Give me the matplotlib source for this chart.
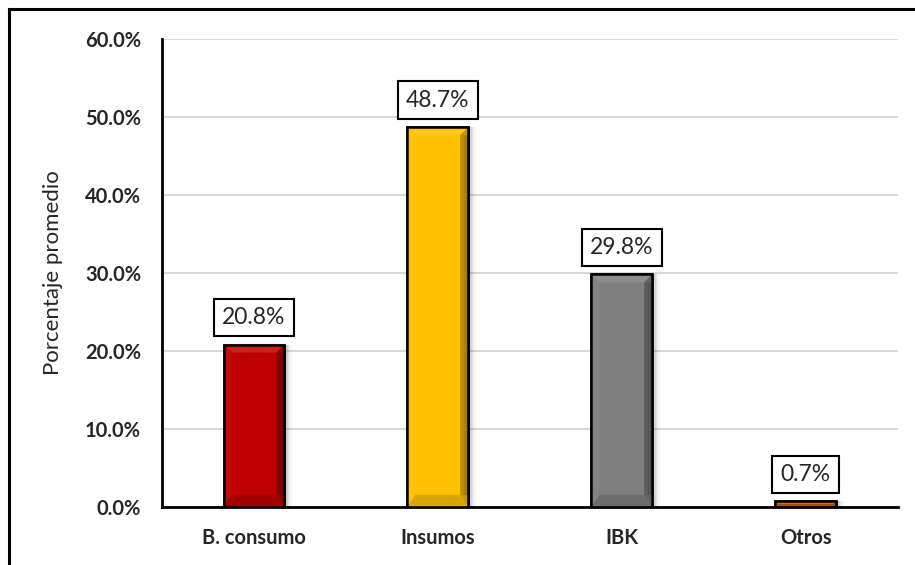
import numpy as np
import matplotlib.pyplot as plt
from matplotlib.patches import Polygon, Rectangle
from matplotlib.lines import Line2D
from matplotlib.colors import to_rgb
import matplotlib.transforms as mtransforms

plt.rcParams['font.family'] = ['Lato', 'DejaVu Sans']

# datos
categorias = ["B. consumo", "Insumos", "IBK", "Otros"]
porcentajes = [20.8, 48.7, 29.8, 0.7]
colores = ["#C00000", "#FFC000", "#7F7F7F", "#C55A11"]
yticks = [0, 10, 20, 30, 40, 50, 60]


def mezcla(c, otro, t):
    c = np.array(to_rgb(c))
    o = np.array(to_rgb(otro))
    return tuple(c * (1 - t) + o * t)


fig = plt.figure(figsize=(9.15, 5.65), dpi=100)
ax = fig.add_axes([0.177, 0.103, 0.804, 0.828])
x = np.arange(len(categorias))
ancho = 0.33
ax.set_xlim(-0.5, len(categorias) - 0.5)
ax.set_ylim(0, 60)

# sombra a la derecha de cada barra
for i, v in enumerate(porcentajes):
    for k, a in enumerate([0.10, 0.08, 0.06, 0.045, 0.03, 0.02, 0.01]):
        tr = mtransforms.offset_copy(ax.transData, fig=fig, x=1 + k * 1.3, y=0, units='dots')
        ax.add_patch(Rectangle((x[i] - ancho / 2, 0), ancho, v, transform=tr,
                               facecolor='black', alpha=a, edgecolor='none', zorder=2))

barras = ax.bar(x, porcentajes, width=ancho, color=colores, edgecolor='black',
                linewidth=1.8, zorder=3)

# biselado de las barras (en pixeles)
inv = ax.transData.inverted()
for b, c in zip(barras, colores):
    (L, B), (R, T) = ax.transData.transform([(b.get_x(), 0), (b.get_x() + b.get_width(), b.get_height())])
    alto = T - B
    d = min(8, alto / 2)
    db = min(12, alto / 2)
    caras = [
        ([(L, T), (R, T), (R - d, T - d), (L + d, T - d)], mezcla(c, 'white', 0.12)),
        ([(L, T), (L + d, T - d), (L + d, B + db), (L, B)], mezcla(c, 'white', 0.04)),
        ([(R, T), (R - d, T - d), (R - d, B + db), (R, B)], mezcla(c, 'black', 0.22)),
        ([(L, B), (R, B), (R - d, B + db), (L + d, B + db)], mezcla(c, 'black', 0.15)),
    ]
    for pts, col in caras:
        ax.add_patch(Polygon(inv.transform(pts), closed=True, facecolor=col,
                             edgecolor='none', zorder=3.5))
    # degradado oscuro en el borde derecho
    for k, a in enumerate([0.18, 0.12, 0.07, 0.03]):
        pts = [(R - k * 2, T - d), (R - k * 2 - 2, T - d), (R - k * 2 - 2, B + db), (R - k * 2, B + db)]
        ax.add_patch(Polygon(inv.transform(pts), closed=True, facecolor='black', alpha=a,
                             edgecolor='none', zorder=3.6))
    ax.add_patch(Rectangle((b.get_x(), 0), b.get_width(), b.get_height(), facecolor='none',
                           edgecolor='black', linewidth=1.8, zorder=4))

# etiquetas de valor
for xi, v in zip(x, porcentajes):
    ax.annotate(f"{v:.1f}%", (xi, v), xytext=(0, 27), textcoords='offset pixels',
                ha='center', va='center', fontsize=16.5, color='#262626', zorder=5,
                bbox=dict(boxstyle='square,pad=0.36', facecolor='white', edgecolor='black',
                          linewidth=1.5))

ax.set_yticks(yticks)
ax.set_yticklabels([f"{t:.1f}%" for t in yticks], fontsize=14.5, fontweight='bold', color='#262626')
ax.set_xticks(x)
ax.set_xticklabels(categorias, fontsize=14.5, fontweight='bold', color='#262626')
ax.tick_params(axis='y', length=0, pad=15)
ax.tick_params(axis='x', length=0, pad=15)
ax.set_ylabel("Porcentaje promedio", fontsize=16, color='#262626', labelpad=16)

ax.grid(axis='y', color='#D9D9D9', linewidth=1.5, zorder=0)
ax.set_axisbelow(True)
for s in ['top', 'right']:
    ax.spines[s].set_visible(False)
ax.spines['left'].set_linewidth(2)
ax.spines['bottom'].set_linewidth(2)

# marco exterior
fig.add_artist(Line2D([0.0098, 0.0098], [0, 0.984], color='black', linewidth=2.2))
fig.add_artist(Line2D([0.0098, 1.0], [0.984, 0.984], color='black', linewidth=2.2))

fig.savefig("out.png", dpi=100)
